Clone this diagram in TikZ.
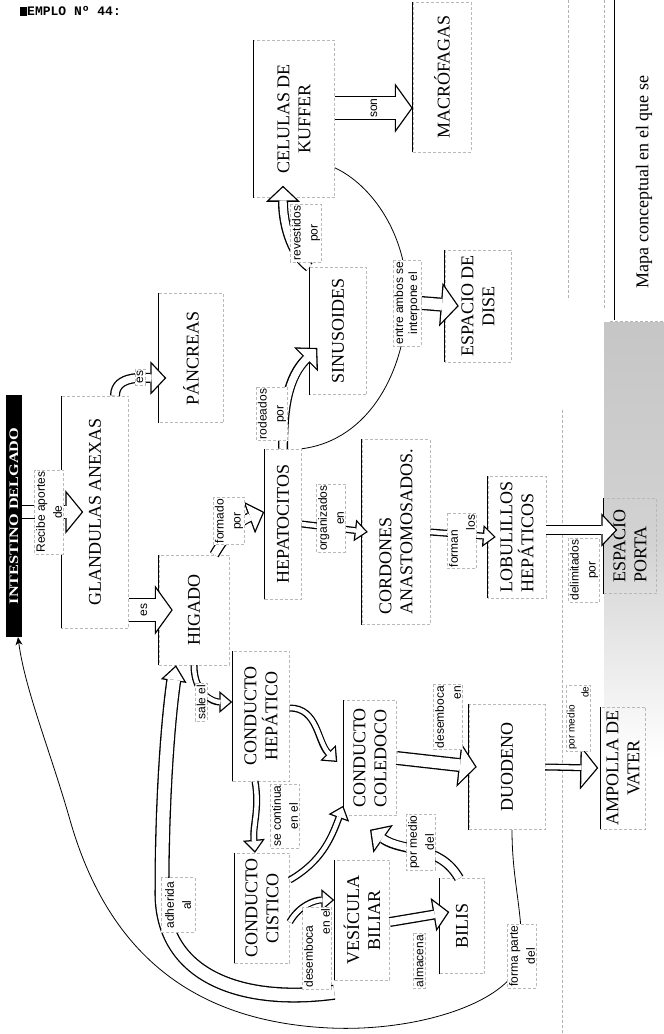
\documentclass[tikz,border=0pt]{standalone}
\usepackage{fontspec}
\setmainfont{Liberation Serif}
\newfontfamily\lsans{Liberation Sans}
\newfontfamily\lmono{Liberation Mono}
\usepackage{graphicx}
\usetikzlibrary{arrows.meta,calc}
\pgfdeclarelayer{bg}
\pgfdeclarelayer{conn}
\pgfsetlayers{bg,conn,main}
\newcommand\cptfont{\fontsize{18}{21}\selectfont}
\newcommand\lblfont{\lsans\fontsize{12}{17}\selectfont}
\tikzset{
  concept/.style={rotate=90, draw=gray!55, densely dashed, line width=0.5pt, font=\cptfont, align=center, inner sep=2pt},
  solidside/.style={draw=black, solid, line width=0.9pt},
  lbl/.style={rotate=90, font=\lblfont, align=center, fill=white, draw=gray!55, densely dashed, line width=0.4pt, inner sep=1.5pt},
  thinline/.style={draw=black, line width=0.8pt},
  hwide/.style={draw=white, line width=21.4pt, shorten >=1.6pt,
    -{Triangle[length=15.1pt,width=41.9pt,line width=0pt]},
    preaction={draw=black, line width=24pt, shorten >=0pt,
      -{Triangle[length=18pt,width=50pt,line width=0pt]}}},
  hbig/.style={draw=white, line width=11.4pt, shorten >=1.7pt,
    -{Triangle[length=15pt,width=36.7pt,line width=0pt]},
    preaction={draw=black, line width=14pt, shorten >=0pt,
      -{Triangle[length=18pt,width=44pt,line width=0pt]}}},
  hmid/.style={draw=white, line width=7.4pt, shorten >=1.8pt,
    -{Triangle[length=12.9pt,width=27.4pt,line width=0pt]},
    preaction={draw=black, line width=10pt, shorten >=0pt,
      -{Triangle[length=16pt,width=34pt,line width=0pt]}}},
  hsmall/.style={draw=white, line width=4.4pt, shorten >=2pt,
    -{Triangle[length=9.7pt,width=16.4pt,line width=0pt]},
    preaction={draw=black, line width=7pt, shorten >=0pt,
      -{Triangle[length=13pt,width=22pt,line width=0pt]}}},
  hnarrow/.style={draw=white, line width=4.4pt, shorten >=1.7pt,
    -{Triangle[length=15pt,width=36.7pt,line width=0pt]},
    preaction={draw=black, line width=7pt, shorten >=0pt,
      -{Triangle[length=18pt,width=44pt,line width=0pt]}}},
  hdouble/.style={draw=white, line width=12.4pt, shorten >=2.1pt,
    -{Triangle[length=12.6pt,width=20.5pt,line width=0pt]},
    preaction={draw=black, line width=15pt, shorten >=0pt,
      -{Triangle[length=16pt,width=26pt,line width=0pt]}}},
}
\begin{document}
\begin{tikzpicture}[x=1pt,y=-1pt]
\useasboundingbox (0,0) rectangle (664,1034);
\begin{pgfonlayer}{bg}
\fill[white] (0,0) rectangle (664,1034);
\shade[top color=gray!45, bottom color=white, middle color=gray!35] (604,322) rectangle (664,760);
\draw[gray!60, densely dashed, line width=0.6pt] (568,0) -- (568,300) (604,0) -- (604,310) (562,410) -- (562,1034);
\draw[line width=0.9pt] (614,0) -- (614,320);
\draw[gray!60, densely dashed, line width=0.6pt] (610,321) -- (664,321);
\node[rotate=90, font=\cptfont] (caption) at (644,182) {Mapa conceptual en el que se};
\fill[black] (20,6.5) rectangle (27,15.5);
\node[anchor=west, font=\lmono\bfseries\fontsize{13}{15}\selectfont, inner sep=0pt] (header) at (27,11) {EMPLO Nº 44:};
\node[rotate=90, fill=black, text=white, minimum width=242pt, minimum height=16pt, inner sep=0pt, font=\bfseries\fontsize{13}{15}\selectfont] (intestino) at (14,516) {\scalebox{1.25}[1]{INTESTINO DELGADO}};
\node[concept, minimum width=157pt, minimum height=81pt] (kuffer) at (294,119) {CELULAS DE\\KUFFER};
\node[concept, minimum width=150pt, minimum height=58pt] (macro) at (442,77) {MACRÓFAGAS};
\node[concept, minimum width=129pt, minimum height=65pt] (pancreas) at (191,358) {PÁNCREAS};
\node[concept, minimum width=232pt, minimum height=67pt] (glandulas) at (95,512) {GLANDULAS ANEXAS};
\node[concept, minimum width=110pt, minimum height=70pt] (higado) at (194,610) {HIGADO};
\node[concept, minimum width=150pt, minimum height=37pt] (hepatocitos) at (283,524) {HEPATOCITOS};
\node[concept, minimum width=127pt, minimum height=57pt] (sinusoides) at (338,331) {SINUSOIDES};
\node[concept, minimum width=112pt, minimum height=66pt] (dise) at (478,306) {ESPACIO DE\\DISE};
\node[concept, align=left, minimum width=185pt, minimum height=68pt] (cordones) at (396,532) {CORDONES\\ANASTOMOSADOS.};
\node[concept, align=left, minimum width=122pt, minimum height=58pt] (lobulillos) at (517,537) {LOBULILLOS\\HEPÁTICOS};
\node[concept, align=left, minimum width=95pt, minimum height=53pt] (porta) at (630,546) {ESPACIO\\PORTA};
\node[concept, minimum width=130pt, minimum height=57pt] (hepatico) at (261,716) {CONDUCTO\\HEPÁTICO};
\node[concept, minimum width=115pt, minimum height=53pt] (coledoco) at (370,758) {CONDUCTO\\COLEDOCO};
\node[concept, minimum width=125pt, minimum height=76pt] (duodeno) at (507,767) {DUODENO};
\node[concept, minimum width=122pt, minimum height=45pt] (ampolla) at (623,768) {AMPOLLA DE\\VATER};
\node[concept, minimum width=110pt, minimum height=55pt] (cistico) at (262,908) {CONDUCTO\\CISTICO};
\node[concept, minimum width=120pt, minimum height=55pt] (vesicula) at (362,920) {VESÍCULA\\BILIAR};
\node[concept, minimum width=95pt, minimum height=45pt] (bilis) at (462,926) {BILIS};
\foreach \n in {kuffer,macro,pancreas,glandulas,higado,hepatocitos,sinusoides,dise,cordones,lobulillos,porta,hepatico,coledoco,duodeno,ampolla,cistico,vesicula,bilis}
  \draw[solidside] (\n.north west) -- (\n.north east);
\end{pgfonlayer}
% labels
\node[lbl] (recibe) at (49,512) {Recibe aportes\\de};
\node[lbl] (es1) at (140,377) {es};
\node[lbl, draw=none, inner sep=0.5pt] (es2) at (144,610) {es};
\node[lbl] (formado) at (229,521) {formado\\por};
\node[lbl] (rodeados) at (272,414) {rodeados\\por};
\node[lbl] (organizados) at (331,518) {organizados\\en};
\node[lbl] (revestidos) at (306,233) {revestidos\\por};
\node[lbl, draw=none, inner sep=0.5pt] (son) at (374,108) {son};
\node[lbl] (entre) at (407,303) {entre ambos se\\[-3pt]interpone el};
\node[lbl, align=left] (forman) at (462,541) {forman\\\hspace*{37pt}los};
\node[lbl] (delimitados) at (584,570) {delimitados\\por};
\node[lbl] (saleel) at (201,702) {sale el};
\node[lbl] (secontinua) at (285,816) {se continua\\en el};
\node[lbl, align=left] (desemboca2) at (317,948) {desemboca\\\hspace*{53pt}en el};
\node[lbl, align=right] (desemboca1) at (448,717) {desemboca\\en};
\node[lbl, align=left, font=\lsans\fontsize{10}{14}\selectfont] (pormedio1) at (578,718) {por medio\\\hspace*{52pt}de};
\node[lbl] (almacena) at (419,961) {almacena};
\node[lbl] (pormedio2) at (421,842) {por medio\\del};
\node[lbl] (formaparte) at (522,956) {forma parte\\del};
\node[lbl, inner sep=4pt] (adherida) at (178,905) {adherida\\al};
% connectors
\begin{pgfonlayer}{conn}
\draw[hbig] (intestino.south |- glandulas.north) -- ([xshift=22pt]glandulas.north);
\draw[hmid] ([xshift=20pt]glandulas.east) to[out=90,in=180] ([xshift=8pt,yshift=-20pt]pancreas.north);
\draw[hwide] (glandulas.south |- higado.north) -- ([xshift=14pt]higado.north);
\draw[hmid] ([xshift=-15pt]higado.south east) to[out=60,in=200] ([yshift=12pt]hepatocitos.north);
\draw[hmid] (hepatocitos.east) to[out=90,in=225] ([xshift=8pt,yshift=-17pt]sinusoides.north);
\draw[hsmall] (hepatocitos.south) -- ([xshift=6pt]cordones.north);
\draw[hmid] (sinusoides.north east) .. controls +(-20,-15) and +(0,35) .. ([xshift=-11pt,yshift=12pt]kuffer.west);
\draw[hwide] (kuffer.south |- 0,108) -- (macro.north |- 0,108);
\draw[thinline] (hepatocitos.south east) .. controls (370,440) and (405,370) .. (entre.center) .. controls (409,236) and (372,185) .. ([yshift=30pt]kuffer.south west);
\draw[hbig] (entre.south) -- ([xshift=14pt]dise.north);
\draw[hsmall] (cordones.south) -- ([xshift=8pt]lobulillos.north);
\draw[hmid] ([yshift=7pt]lobulillos.south) -- ([xshift=14pt,yshift=16pt]porta.north);
\draw[hsmall] (higado.west) .. controls +(0,28) and +(-20,0) .. (hepatico.north |- 0,702);
\draw[hsmall] ([yshift=8pt]hepatico.south) to[out=0,in=135] ([xshift=-6pt,yshift=-4pt]coledoco.north);
\draw[hsmall] ([xshift=-6pt]hepatico.west) to[out=-80,in=95] ([xshift=-7pt]cistico.east);
\draw[hsmall] ([yshift=28pt]cistico.south) to[out=30,in=250] ([yshift=10pt]coledoco.north west);
\draw[hsmall] ([yshift=-14pt]cistico.south) to[out=60,in=180] ([yshift=20pt]vesicula.north);
\draw[hmid] ([yshift=-2pt]vesicula.south) -- ([xshift=10pt,yshift=14pt]bilis.north);
\draw[hmid] ([xshift=-3pt]bilis.east) to[out=120,in=-35] ([yshift=-14pt]coledoco.west);
\coordinate (adw) at (162,890);
\draw[hdouble] ([yshift=-12pt]vesicula.north west) .. controls (240,1005) and (160,975) .. (adw) .. controls (162,800) and (168,720) .. ([xshift=-18pt]higado.west);
\draw[hbig] (coledoco.south) -- ([xshift=8pt]duodeno.north);
\draw[hnarrow] (duodeno.south) -- ([xshift=-2pt]ampolla.north);
\coordinate (t1a) at (330,1028);
\coordinate (t1b) at (70,820);
\draw[thinline, -{Stealth[length=8pt,width=7pt]}] ([xshift=5pt]duodeno.west) .. controls +(0,50) and +(0,-50) .. (formaparte.center) .. controls +(-8,45) and (420,1032) .. (t1a) .. controls (200,1022) and (110,960) .. (t1b) .. controls (50,750) and (25,690) .. ([xshift=4pt]intestino.west);
\end{pgfonlayer}
\end{tikzpicture}
\end{document}
